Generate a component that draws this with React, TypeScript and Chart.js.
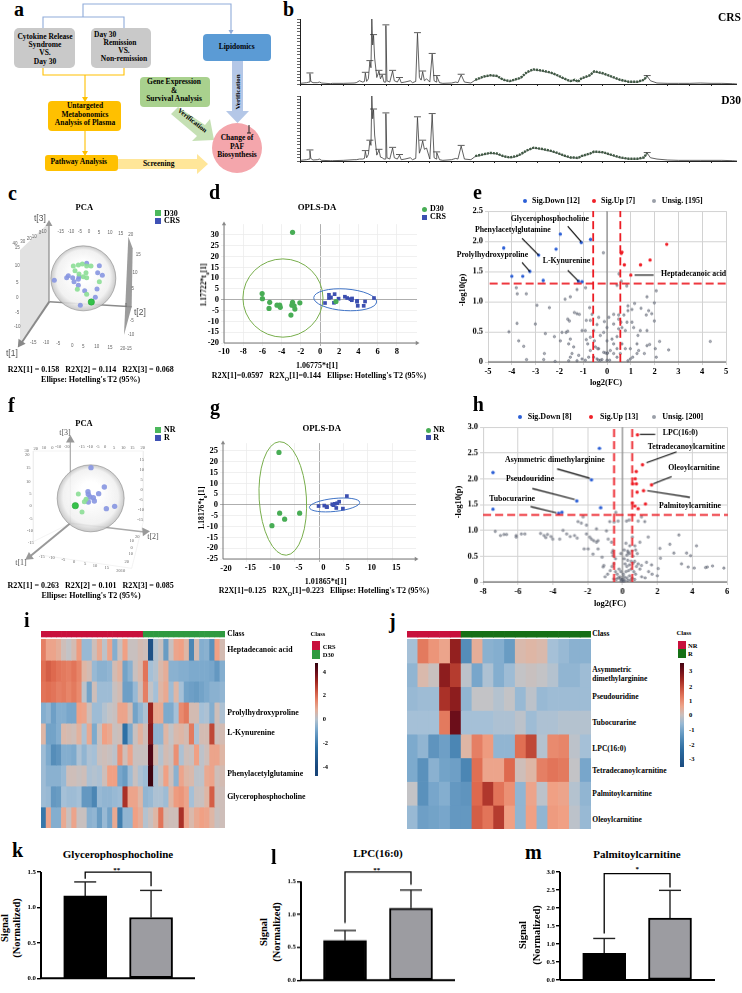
import React, { useEffect, useRef } from "react";
import Chart from "chart.js/auto";

const F = '"Liberation Serif", serif';
const SANS = '"Liberation Sans", sans-serif';

/* ---------- b: chromatograms ---------- */
const crsTime = [0,.3,.42,.46,.5,.6,.8,.9,1,1.4,1.5,2,2.5,2.6,2.75,2.9,2.98,3.02,3.08,3.16,3.23,3.28,3.32,3.36,3.4,3.45,3.55,3.65,3.72,3.8,3.88,3.94,3.97,4.02,4.15,4.28,4.36,4.5,4.6,4.68,4.85,5.1,5.2,5.35,5.43,5.52,5.6,5.67,5.75,5.85,6,6.11,6.2,6.3,6.32,6.45,6.6,7,7.2,7.3,7.45,7.6,7.9,8.1,8.5,8.8,9.1,9.4,9.7,10,10.2,10.5,10.8,11.2,11.6,11.9,12.2,12.5,12.7,12.85,13,13.4,13.6,14,14.4,14.8,15.2,15.6,15.9,16.05,16.2,16.5,17,17.5,18,18.5,19,19.5,20,20.2];
const crsSignal = [1,2,3,16,4,2,2,3,1.5,.5,1,1,1.5,2,5,3,4,17,4,8,35,25,100,60,75,40,10,20,8,14,3,3,90,5,3,20,5,3,9,2,3,5,2,4,78,10,6,19,5,8,3,46,5,3,12,2,1,1.5,3,2,14,3,1.5,6,11,13,12,6,4,7,9,18,22,20,17,13,8,4,6,3,8,13,19,16,11,6,3,3,6,12,5,1.5,1,1,1,1.5,1,1,.5,0];
const d30Time = [0,.3,.42,.46,.5,.6,.8,.9,1,1.4,1.5,2,2.5,2.6,2.75,2.9,2.98,3.02,3.08,3.16,3.23,3.28,3.32,3.36,3.4,3.45,3.55,3.65,3.72,3.8,3.88,3.94,3.97,4.02,4.15,4.28,4.36,4.5,4.6,4.68,4.85,5.1,5.2,5.35,5.43,5.52,5.6,5.67,5.75,5.85,6,6.11,6.2,6.3,6.32,6.45,6.6,7,7.2,7.3,7.45,7.6,7.9,8.1,8.5,8.8,9.1,9.4,9.7,10,10.2,10.5,10.8,11.2,11.6,11.9,12.2,12.5,12.7,12.85,13,13.4,13.6,14,14.4,14.8,15.2,15.6,15.9,16.05,16.2,16.5,17,17.5,18,18.5,19,19.5,20,20.2];
const d30Signal = [1,2,3,16,4,1.5,2,3,1,.5,.5,1,2,2,3,3,4,15,5,10,31,24,100,65,79,40,9,17,6,5,3,3,73,5,3,20,5,3,9,2,3,5,2,4,67,12,20,31,18,20,3,72,5,3,13,2,1,2,4,3,23,3,2,7,10,12,11,7,5,7,10,16,20,18,15,12,8,5,5,4,7,11,14,13,9,5,3,3,5,12,5,3,1.5,1,1,1,1,1,.5,0];
const crsPeakTimes = [.46,3.02,3.23,3.32,3.4,3.65,3.8,3.97,4.28,4.6,5.43,5.67,6.11,6.32,7.45,16.05];
const d30PeakTimes = [.46,3.02,3.23,3.32,3.4,3.65,3.97,4.28,4.6,5.43,5.67,6.11,6.32,7.45,16.05];

/* ---------- c, f: PCA scores, projected ---------- */
const pcaCGreen = [[220,258],[235,255],[247,252],[260,258],[273,258],[225,272],[237,282],[258,278],[250,290],[260,293],[298,305],[232,328],[260,343]];
const pcaCGreenStrong = [[274,366]];
const pcaCBlue = [[260,250],[298,257],[293,278],[307,286],[163,301],[205,287],[200,293],[218,293],[237,290],[222,305],[235,298],[235,316],[254,332],[291,327],[286,352],[241,376]];
const pcaFGreen = [[235,357],[258,373],[253,380],[246,411]];
const pcaFGreenStrong = [[226,392]];
const pcaFBlue = [[273,278],[313,336],[296,356],[264,350],[265,358],[270,366],[280,368],[283,378],[265,381],[319,401],[344,394]];

/* ---------- d, g: OPLS-DA scores ---------- */
const dD30X = [-2.86,-6.03,-6,-5.24,-5.31,-4.48,-4.2,-4.14,-2.86,-2.93,-2.7,-2.62,-2.1,-3.03,1.66];
const dD30Y = [31.2,2.9,.5,-1.2,-4,-2.5,-2.5,-3.5,-1.2,-2.5,-2.8,-4.3,-1.4,-7.1,-.8];
const dCrsX = [.52,.93,.93,1.14,1.52,1.45,1.93,2.59,2.83,3.17,3.31,3.34,3.86,3.93,3.86,4.55,4.69,5.62];
const dCrsY = [-1.5,2.3,.8,1.1,2.6,-1.4,.5,1.4,.8,.3,-.2,.6,-.9,-2.8,-.5,-2.8,-.8,.8];
const gNrX = [-8.29,-8.15,-7.12,-4.04,-9.73];
const gNrY = [24.3,-3.8,-6.6,-3.8,-9.6];
const gRX = [-.14,1.03,1.5,2.67,3.2,3.5,3.7,4.1,4.86,5.68,1.6,2.9];
const gRY = [-.5,-.3,-.9,.3,.5,-1.4,.8,1.5,-1.7,4.1,-1,-.1];

/* ---------- e: volcano ---------- */
const eDownX = [-4.34,-4,-3.54,-3.24,-2.68,-2.87,-2.14,-1.96,-1.08,-.69,-1.2,-1.05];
const eDownY = [1.89,1.42,1.42,1.5,1.35,1.77,1.87,2.12,1.98,2.03,1.34,1.33];
const eUpX = [.63,.6,.73,1,1.41,1.81,2.51];
const eUpY = [1.82,1.8,1.61,1.44,1.61,1.69,1.95];
const eGrayX = [-3.81,-3.77,-3.39,-2.94,-2.42,-1.76,-1.54,-1.26,-.9,-3.01,-3.78,-4.12,-3.71,-3.5,-3.38,-2.59,-2.21,-2.63,-2.66,-2.18,.42,.83,-.15,.5,.6,2.07,1.68,1.16,.88,1.05,1.43,1.75,1.88,1.65,1.99,1.99,1.4,1.68,1.3,.88,.71,.49,.28,.08,-.11,-.35,-.42,-.73,-.63,-.7,-.87,-1.37,-1.26,-1.16,-1.65,-1.58,-1.65,-1.89,-1.54,-1.72,-1.61,-1.96,-1.4,-1.05,-.91,-.56,-.7,-.87,-.53,-.28,-.14,0,.28,.63,.84,1.05,1.12,.77,.49,.42,.21,0,.28,.42,.63,.77,.98,1.26,1.33,1.57,1.79,2.07,2.21,2.59,4.34,1.68,-.35,-.14,0,.14,.28,-.21,-.28,-.42,-.56,-.77,-.91,-1.05,-1.19,-1.54,-1.61,-1.26,-1.47,-.81,-.7,-.49,-.39,.42,.56,.98,1.08,.88,0,.11,2.03,1.26,.49,.59,-.07,.03,-.35];
const eGrayY = [1.23,1.13,1.13,.94,.9,1.04,1.08,1.2,1.23,.63,.64,.5,.35,.26,.04,.47,.42,.14,.04,.01,1.27,1.26,1.81,1.46,1.34,1.18,1.08,.97,.93,.87,.89,.85,.8,.78,.98,.68,.52,.52,.44,.85,.78,.78,.79,.74,.67,.74,.62,.9,.79,.69,.69,.82,.8,.79,.71,.68,.51,.49,.38,.49,.3,.35,.25,.52,.52,.52,.41,.37,.35,.44,.49,.57,.63,.57,.66,.66,.57,.52,.55,.42,.38,.35,.3,.22,.3,.22,.22,.3,.19,.14,.29,.08,.34,.2,.34,.27,.22,.16,.14,.19,.14,.04,.03,.05,.08,.08,.03,.05,.11,.08,.02,.02,.14,.3,.19,.25,.22,.08,.14,.05,.08,.02,.03,.03,.22,.14,.71,.66,.15,.15,.03];

/* ---------- h: volcano ---------- */
const hDownX = [-7.43,-7.43,-1.32,-1.78,-2.62,-3.66,-3.47,-1.25];
const hDownY = [2.12,1.41,2.59,1.98,1.57,1.33,1.35,1.44];
const hUpX = [.86,1.15,.79,.73,.59,.8,1.67,.84,1.21,1.32,.57,.71,.9];
const hUpY = [2.85,2.27,2.14,2,1.9,1.9,1.88,1.74,1.77,1.51,1.53,1.47,1.42];
const hGrayX = [-7.3,-7,-6.8,-6.65,-6.1,-6.1,-5.8,-5.6,-4.7,-4.5,-4.3,-4.4,-4.1,-4,-3.6,-3.41,-3.2,-3,-2.75,-2.6,-2.26,-2.36,-2.07,-2.55,-.38,-.25,-.48,-.73,.23,.38,1.09,1.28,.9,1.48,.57,-1.49,-2.07,-1.88,-1.78,-1.65,-1.49,-1.4,-.92,-.82,-.63,-.54,-2.2,-1.97,-1.69,-1.4,-1.07,-1.11,-1.17,-.59,-.54,2.15,2.72,3.24,2.95,3.68,3.91,4.25,2.18,2.05,3.39,3.77,4.12,4.77,4.87,5.17,5.82,1.67,1.38,1.09,1,.42,.33,.71,.1,.3,.5,.15,.25,.4,.6,.7,.8,.9,1,.2,.35,.5,.65,.75,.05,-.1,-.2,-.3,-.4,-.15,.1,.25,.4,.55,.7,-.05,0,.02,-.02,.05,-.08,.08,.12,-.12,-.25,-.35,-.5,.3,.45,1.1,1.3,.2,.3,.1,.4,.25,.55,.6,.75,.85,-.1,-.4,-.5,-.6,-.7,-.85,-1,1.5,1.7,2];
const hGrayY = [.98,.9,.92,.92,.9,.87,.93,.93,.94,.9,.92,.86,.88,.83,.83,1,.93,.88,.9,.85,1.26,1.14,1.1,1.17,1.35,1.18,1.16,1.17,1.18,1.2,1.26,1.17,1.18,.87,.87,1.03,.93,.87,.83,.8,.77,.8,.99,.83,.77,.61,.64,.64,.54,.64,.32,.29,.48,.57,.51,.65,.73,.91,.56,.56,.51,.7,.46,.26,.35,.29,.27,.28,.29,.31,.27,.33,.38,.32,.77,.7,.57,.7,.45,.42,.4,.35,.3,.33,.36,.4,.3,.35,.25,.2,.22,.25,.2,.15,.15,.2,.25,.15,.2,.1,.1,.08,.12,.08,.05,.05,.02,.03,.04,.02,.02,.05,.02,.06,.08,.05,.06,.03,.04,.1,.08,.75,.6,.62,.55,.52,.6,.5,.62,.55,.55,.45,.35,.3,.22,.15,.1,.2,.15,.12];

/* ---------- i, j: heatmaps ---------- */
const heatI = [
  [1.6,.9,.9,.7,.2,0,.3,1.1,-.6,-.6,.2,.8,-.1,.9,-.9,.1,1,.1,.1,.3,.2,-4,-.2,.1,-1.4,.1,.9,1,.5,-2,.3,-.9,-.8,-1.7,1,.3],
  [1.9,2.2,2,1.8,1.7,1.6,1.8,1.5,.5,.3,-.6,-.8,-.8,-.7,.3,.6,-1.2,-.8,.1,.4,1.8,-.4,-.2,.4,.7,-.8,-.8,-.9,-.9,-1,-1,-1,-1,-1.1,-1.5,-.9],
  [1.8,1.9,1.8,1.6,1.7,1.5,1.7,1.4,-.1,-1.2,.2,-.5,-.5,-.5,.1,.3,-1.3,-1.3,-.6,.2,1.6,0,-.4,.5,.8,-.5,.5,-.4,-1.2,-1.3,-1.4,-1.2,-1,-.8,-.8,-.7],
  [-.9,-.7,-1.3,-.9,-.9,-1.1,-1.1,1,.9,.2,-.5,-.5,-.2,0,.1,.9,.9,.3,-1.2,-.7,-.3,3.3,.8,.8,-1,-1,-.4,1.4,1.7,.3,.3,-.4,-.3,-.9,.2,-.3],
  [.5,-1.2,-1.2,-.9,.4,.3,.2,.6,-.3,.8,-1,.1,1,.8,.1,.2,-2.6,-1,.1,.6,.2,3.6,-.7,-.7,.5,0,.4,.5,.3,1.7,-.3,.3,.3,2.6,.2,.3],
  [-.5,-1,-1.8,-1.6,-.9,-.9,-1,-.3,-.7,-.3,-.4,.1,.2,.1,-.1,1.3,.2,.9,.1,.1,.1,4.4,.3,-.2,.3,.1,1.3,-.3,.2,.1,1,-.1,.2,.9,.9,.5],
  [-.5,-.8,-.8,-.8,-.6,.2,.2,.1,.2,-.3,-.2,-.3,.2,1,1,-1.1,-1.4,-.5,.1,-.3,-.5,4.7,-.3,.1,1,.2,-.8,.9,.5,.4,-.1,-.1,.8,.9,.2,.3],
  [-.5,-.6,-1.5,-1.4,-.4,-.5,-.5,-.4,-1.5,-1.5,-2,-.6,-.7,-.7,-.6,-.5,3,.9,.9,.5,-.7,-.6,-.3,-.3,-.5,.5,1.1,1.2,.9,-.4,.1,.1,.5,2.2,.2,.2],
  [-2.4,.9,-.9,-.9,.8,.1,.9,.1,.1,-.8,-.7,-1.4,-.6,-1.2,.8,-2.2,-.7,-.7,1,.7,-.2,.1,.5,1.8,.3,.2,.2,3,.9,.4,.8,1,.9,.5,.1,.2],
];
const heatIClass = [20, 16];
const heatJ = [
  [-.4,1.7,1.2,.9,3.4,-1.8,.7,-.8,-.9,-1.4,.4,.5,.4,-.4,-.6,-.8,-.8],
  [-.7,.4,.1,3.5,2.8,-.1,-1.1,-.3,-.9,-.5,0,.1,0,-.2,-.7,-.7,-.5],
  [-.6,-.5,-.5,3,3.5,-.7,0,0,-.2,0,-.6,-.1,-.6,-.5,-.5,-.5,-.5],
  [-.4,-.4,-.4,1.7,4,-.4,-.4,-.4,-.3,-.3,-.1,-.5,-.3,-.3,-.2,-.2,-.2],
  [-1,-.7,-1.6,-1.3,-2,.5,1.6,1.1,-.7,-.7,1.9,2.6,-.2,1.4,1.5,-.1,-.4],
  [-1,-1.7,-.8,-1.2,-1.3,-2,1.9,.9,.9,2,.2,.5,1.6,1.8,1.7,0,-1.1],
  [0,-1.7,-1.1,-.9,-1.5,-1.6,2,2.9,1.8,1.3,-.7,.9,-.1,1,.9,-.2,-.7],
  [-.6,-1.3,-1.2,-1.1,-1.5,-1.5,2.2,1.8,2.8,1,-.7,1,-.7,1.1,1,-.1,-.6],
];
const heatJClass = [5, 12];
const heatStops: [number, number[]][] = [[-4.7,[22,66,118]],[-2.6,[45,112,165]],[-1,[125,170,205]],[-.4,[165,192,215]],[0,[195,195,198]],[.5,[222,182,165]],[1,[240,160,132]],[2,[222,105,78]],[3.2,[160,38,32]],[4.2,[95,8,25]],[5,[40,0,10]]];
const heatColor = (v: number) => {
  for (let i = 1; i < heatStops.length; i++) {
    if (v <= heatStops[i][0]) {
      const [a, ca] = heatStops[i - 1], [b, cb] = heatStops[i];
      const t = Math.max(0, (v - a) / (b - a));
      return `rgb(${ca.map((c, k) => Math.round(c + (cb[k] - c) * t)).join(",")})`;
    }
  }
  return "rgb(40,0,10)";
};

/* ---------- k, l, m: bars ---------- */
const kLabels = ["D30", "CRS"];
const kMeans = [1.163, .858];
const kTops = [1.36, 1.24];
const lLabels = ["NR", "R"];
const lMeans = [.604, 1.096];
const lTops = [.756, 1.37];
const mLabels = ["NR", "R"];
const mMeans = [.74, 1.717];
const mTops = [1.154, 2.49];

/* ---------- shared chart helpers ---------- */
const pairs = (xs: number[], ys: number[]) => xs.map((x, i) => ({ x, y: ys[i] }));
const pts = (l: number[][]) => l.map(([x, y]) => ({ x, y }));
const seg = (p: number[][], color: string, width = 1, dash?: number[]) => ({
  type: "scatter", showLine: true, data: pts(p), borderColor: color, borderWidth: width,
  borderDash: dash || [], pointRadius: 0, clip: false, tension: 0,
});
const dots = (data: any[], bg: string, r: number, style = "circle", border = "transparent", bw = 0) => ({
  type: "scatter", data, backgroundColor: bg, borderColor: border, borderWidth: bw, pointRadius: r, pointStyle: style, clip: false,
});
const poly = (p: number[][], fill: any, line = "transparent") => ({
  type: "scatter", showLine: true, data: pts(p), backgroundColor: fill, borderColor: line, borderWidth: 0.5, fill: "shape", pointRadius: 0, tension: 0, clip: false,
});
const arrowTip = (x: number, y: number, rot: number, color: string, r = 4) => ({
  type: "scatter", data: [{ x, y }], pointStyle: "triangle", rotation: rot, pointRadius: r, backgroundColor: color, borderWidth: 0, clip: false,
});
const base = (extra: any = {}) => ({
  animation: false, responsive: false, maintainAspectRatio: false, devicePixelRatio: 1, events: [],
  plugins: { legend: { display: false }, tooltip: { enabled: false } }, ...extra,
});
const tickFont = (size = 8.5) => ({ family: F, weight: "bold", size });
const ellipses = (list: number[][], color: (i: number) => string) => ({
  id: "ellipses",
  beforeDatasetsDraw(chart: any) {
    const { ctx, scales } = chart;
    list.forEach(([cx, cy, rx, ry, rot], i) => {
      const px = scales.x.getPixelForValue(cx), py = scales.y.getPixelForValue(cy);
      ctx.save();
      ctx.beginPath();
      ctx.ellipse(px, py, Math.abs(scales.x.getPixelForValue(cx + rx) - px), Math.abs(scales.y.getPixelForValue(cy + ry) - py), rot * Math.PI / 180, 0, Math.PI * 2);
      ctx.lineWidth = 1;
      ctx.strokeStyle = color(i);
      ctx.stroke();
      ctx.restore();
    });
  },
});

function Cv({ plot, m = [0, 0, 0, 0], make }: { plot: number[]; m?: number[]; make: (fit: any) => any }) {
  const ref = useRef<HTMLCanvasElement>(null);
  const [l, t, r, b] = plot, [ml, mt, mr, mb] = m;
  useEffect(() => {
    const fit = { x: (s: any) => { s.height = mb; }, y: (s: any) => { s.width = ml; } };
    const cfg = make(fit);
    cfg.options.layout = { autoPadding: false, padding: { left: 0, bottom: 0, top: mt, right: mr } };
    const c = new Chart(ref.current as any, cfg);
    return () => c.destroy();
  }, []);
  return <canvas ref={ref} width={r - l + ml + mr} height={b - t + mt + mb}
    style={{ position: "absolute", left: l - ml, top: t - mt, width: r - l + ml + mr, height: b - t + mt + mb }} />;
}

function T({ x, y, t, s = 8, a = "l", r = 0, c = "#000", w = 700, f = F, children }: any) {
  const tx = a === "c" ? -50 : a === "r" ? -100 : 0;
  return <div style={{ position: "absolute", left: x, top: y, transform: `translate(${tx}%,-50%) rotate(${r}deg)`, font: `${w} ${s}px ${f}`, lineHeight: 1, color: c, whiteSpace: "pre" }}>{t}{children}</div>;
}
const Sub = ({ t }: any) => <sub style={{ fontSize: "70%", lineHeight: 0 }}>{t}</sub>;

/* ---------- chart makers ---------- */
const listAxis = (min: number, max: number, list: number[], fit: any, size: number, fmt: (v: number) => string, grid: any, extra: any = {}) => ({
  type: "linear", min, max, afterFit: fit,
  afterBuildTicks: (s: any) => { s.ticks = list.map((value) => ({ value })); },
  ticks: { font: tickFont(size), color: "#000", callback: (v: number) => fmt(v), autoSkip: false, maxRotation: 0, padding: 2, ...(extra.ticks || {}) },
  grid, border: { display: false },
});

const chrom = (time: number[], sig: number[], peaks: number[]) => (fit: any) => {
  const series = pairs(time, sig);
  const hump = series.filter((p) => p.x > 7.9 && p.x < 16.2).map((p) => ({ x: p.x, y: p.y + .5 }));
  const marks = peaks.map((x) => ({ x, y: (series.find((p) => p.x === x) as any).y + 1 }));
  return {
    type: "scatter",
    data: {
      datasets: [
        dots(marks, "#333", 3.5, "line", "#333", .8),
        { type: "scatter", showLine: true, data: hump, borderColor: "#3f5a44", borderWidth: 2.4, borderDash: [2, 1], pointRadius: 0, clip: false },
        { type: "scatter", showLine: true, data: series, borderColor: "#3a3a3a", borderWidth: .8, pointRadius: 0, clip: false },
      ],
    },
    options: base({
      scales: {
        x: { type: "linear", min: 0, max: 20.2, afterFit: fit.x, ticks: { display: false, stepSize: 1 }, grid: { drawOnChartArea: false, color: "#222", tickLength: 2 }, border: { color: "#222", width: 1 } },
        y: { type: "linear", min: 0, max: 100, afterFit: fit.y, ticks: { display: false, stepSize: 5 }, grid: { drawOnChartArea: false, color: "#222", tickLength: 3, lineWidth: .7 }, border: { color: "#222", width: 1 } },
      },
    }),
  };
};

const frameScales = { x: { type: "linear", min: 0, max: 720, display: false }, y: { type: "linear", min: 0, max: 600, reverse: true, display: false } };

const sphere = (cx: number, cy: number, rpx: number) => ({
  type: "scatter", data: [{ x: cx, y: cy }], pointRadius: rpx, borderWidth: .8, borderColor: "rgba(130,130,130,.7)", clip: false,
  backgroundColor: (c: any) => {
    const ch = c.chart;
    const px = ch.width * cx / 720, py = ch.height * cy / 600;
    const g = ch.ctx.createRadialGradient(px, py - rpx * .2, rpx * .3, px, py, rpx);
    g.addColorStop(0, "rgba(255,255,255,.95)");
    g.addColorStop(.75, "rgba(240,240,240,.9)");
    g.addColorStop(1, "rgba(196,196,196,.9)");
    return g;
  },
});

const pcaC = () => ({
  type: "scatter",
  data: {
    datasets: [
      dots(pts(pcaCGreenStrong), "#35c24a", 3.2, "circle", "#1e9a30", .5),
      dots(pts(pcaCGreen), "rgba(140,222,150,.9)", 2.5),
      dots(pts(pcaCBlue), "rgba(135,150,225,.9)", 2.5),
      sphere(250, 295, 32.5),
      arrowTip(62, 490, 215, "#888", 5),
      arrowTip(147, 132, 0, "#999", 4),
      seg([[148, 365], [60, 495]], "#8a8a8a", 2),
      seg([[148, 365], [395, 380]], "#8a8a8a", 1.5),
      seg([[147, 365], [147, 130]], "#8a8a8a", 1.2),
      poly([[385, 170], [398, 205], [395, 380], [372, 465]], "#9c9c9c"),
      poly([[60, 210], [147, 128], [147, 365], [60, 488]], "#e2e2e2"),
    ],
  },
  options: base({ scales: frameScales }),
});

const pcaF = () => ({
  type: "scatter",
  data: {
    datasets: [
      dots(pts(pcaFGreenStrong), "#35c24a", 3.2, "circle", "#1e9a30", .5),
      dots(pts(pcaFGreen), "rgba(140,222,150,.9)", 2.5),
      dots(pts(pcaFBlue), "rgba(135,150,225,.9)", 2.7),
      sphere(272, 370, 33.5),
      arrowTip(435, 470, 85, "#999", 5),
      arrowTip(211, 195, 0, "#999", 5),
      arrowTip(88, 546, 235, "#999", 5),
      seg([[211, 445], [85, 548]], "#999", 2),
      seg([[211, 445], [440, 472]], "#aaa", 1.5),
      seg([[211, 445], [211, 195]], "#aaa", 1.2),
      seg([[100, 228], [430, 228], [430, 440]], "#eeeeee", .7),
      seg([[100, 228], [100, 500], [211, 445]], "#eeeeee", .7),
      seg([[430, 440], [395, 580], [120, 540]], "#eeeeee", .7),
    ],
  },
  options: base({ scales: frameScales }),
});

const gridFaint = (zero = "#999") => ({
  color: (c: any) => (c.tick && c.tick.value === 0 ? zero : "#ececec"), lineWidth: .8, tickLength: 3, drawTicks: true,
});

const opls = (o: any) => (fit: any) => ({
  type: "scatter",
  data: {
    datasets: [
      dots(pairs(o.gx, o.gy), "#48ad55", 2.6),
      dots(pairs(o.bx, o.by), "#3c4fb0", 2.6, "rect"),
      arrowTip(o.xr[1], o.yr[0], 90, "#888", 2.5),
      arrowTip(o.xr[0], o.yr[1], 0, "#888", 2.5),
      seg([[o.xr[0], o.yr[0]], [o.xr[1], o.yr[0]]], "#777", 1),
      seg([[o.xr[0], o.yr[0]], [o.xr[0], o.yr[1]]], "#777", 1),
    ],
  },
  plugins: [ellipses(o.ell, (i) => (i === 0 ? "#78ae4c" : "#3f73c6"))],
  options: base({
    scales: {
      x: listAxis(o.xr[0], o.xr[1], o.xt, fit.x, 8.5, String, gridFaint(), { ticks: { labelOffset: o.off || 0, padding: 1 } }),
      y: listAxis(o.yr[0], o.yr[1], o.yt, fit.y, 8.5, String, gridFaint()),
    },
  }),
});

const volcano = (o: any) => (fit: any) => ({
  type: "scatter",
  data: {
    datasets: [
      ...o.calls.map((p: number[][]) => seg(p, "#000", 1.1)),
      seg([[o.vl, 0], [o.vl, o.yr[1]]], "#ec1c24", 1.8, [8, 4]),
      seg([[o.vr, 0], [o.vr, o.yr[1]]], "#ec1c24", 1.8, [8, 4]),
      seg([[o.xr[0] + o.hs, 1.3], [o.xr[1] + .05, 1.3]], "#ec1c24", 1.8, [8, 4]),
      dots(pairs(o.dx, o.dy), "#2b5fd6", 1.7),
      dots(pairs(o.ux, o.uy), "#f02028", 1.7),
      dots(pairs(o.gx, o.gy), "rgba(140,146,156,.7)", 1.2, "circle", "rgba(55,60,75,.75)", .5),
      seg([[0, 0], [0, o.yr[1]]], "#777", 1),
      seg([[o.xr[0], 0], [o.xr[1], 0]], "#555", 1.2),
    ],
  },
  options: base({
    scales: {
      x: listAxis(o.xr[0], o.xr[1], o.xt, fit.x, 8.5, String, { color: "#d2d2d2", lineWidth: 1, tickLength: 3 }),
      y: listAxis(o.yr[0], o.yr[1], o.yt, fit.y, 8.5, (v: number) => (v === 0 ? "0" : v.toFixed(1)), { color: "#d2d2d2", lineWidth: 1, tickLength: 3 }),
    },
  }),
});

const heat = (matrix: number[][], cls: number[], classBar: number[], yMin: number) => () => {
  const labels = matrix[0].map((_, i) => String(i));
  const classColors = labels.map((_, i) => (i < cls[0] ? "#c8103c" : classBar.length === 3 ? "#167016" : "#2f9a40"));
  return {
    type: "bar",
    data: {
      labels,
      datasets: [
        { data: labels.map(() => [classBar[0], classBar[1]]), backgroundColor: classColors, grouped: false, barPercentage: 1, categoryPercentage: 1, borderWidth: 0 },
        ...matrix.map((row, r) => ({
          data: row.map(() => [r, r + 1]), backgroundColor: row.map(heatColor), grouped: false, barPercentage: 1, categoryPercentage: 1, borderWidth: 0,
        })),
      ],
    },
    options: base({
      scales: {
        x: { display: false, type: "category", offset: true },
        y: { display: false, type: "linear", min: yMin, max: matrix.length, reverse: true },
      },
    }),
  };
};

const bars = (o: any) => (fit: any) => {
  const [a, b] = [1, 2];
  const capHalf = .167;
  return {
    type: "bar",
    data: {
      datasets: [
        seg([[o.xr[0], 0], [o.xr[1], 0]], "#000", 2),
        seg([[o.xr[0], 0], [o.xr[0], o.axisTop]], "#000", 2),
        seg([[a, o.bl], [a, o.bt], [b, o.bt], [b, o.br]], "#000", 1.3),
        seg([[a - capHalf, o.tops[0]], [a + capHalf, o.tops[0]]], "#222", 1.4),
        seg([[b - capHalf, o.tops[1]], [b + capHalf, o.tops[1]]], "#222", 1.4),
        {
          type: "bar", data: [{ x: a, y: o.means[0] }, { x: b, y: o.means[1] }], backgroundColor: ["#000", "#9c9ca1"],
          borderColor: "#000", borderWidth: 2, borderSkipped: false, barThickness: 43, grouped: false,
        },
        seg([[a, o.means[0]], [a, o.tops[0]]], "#222", 1.4),
        seg([[b, o.means[1]], [b, o.tops[1]]], "#222", 1.4),
      ],
    },
    options: base({
      scales: {
        x: {
          type: "linear", min: o.xr[0], max: o.xr[1], offset: false, afterFit: fit.x,
          afterBuildTicks: (s: any) => { s.ticks = [{ value: a }, { value: b }]; },
          ticks: { font: tickFont(6.5), color: "#000", callback: (v: number) => o.labels[v - 1], autoSkip: false, maxRotation: 0, padding: 5 },
          grid: { display: false }, border: { display: false },
        },
        y: listAxis(0, o.yMax, o.yt, fit.y, 6.8, (v: number) => v.toFixed(1),
          { drawOnChartArea: false, color: "#000", lineWidth: 1.4, tickLength: 4 }, { ticks: { padding: 1 } }),
      },
    }),
  };
};

/* ---------- diagram pieces ---------- */
const Box = ({ x, y, w, h, c, r = 5 }: any) => <rect x={x} y={y} width={w} height={h} rx={r} fill={c} />;
function Diagram() {
  return (
    <svg width={290} height={180} style={{ position: "absolute", left: 0, top: 0 }}>
      <g fill="none" stroke="#8fabd9" strokeWidth={1.1}>
        <path d="M43 28V17H124V28M83 17V4H231V30" />
      </g>
      <path d="M228.5 30h5l-2.5 4.5z" fill="#8fabd9" />
      <g fill="none" stroke="#ffc000" strokeWidth={1.1}>
        <path d="M43 68V75H124V68M85 75V97M85 131V151" />
      </g>
      <path d="M82 97h6l-3 5zM82 151h6l-3 5z" fill="#ffc000" />
      <Box x={14} y={28} w={61} h={40} c="#c9c9c9" />
      <Box x={91} y={28} w={60} h={40} c="#c9c9c9" />
      <Box x={203} y={34} w={68} h={27} c="#5b9bd5" r={4} />
      <Box x={140} y={77} w={70} h={30} c="#a9d18e" r={4} />
      <Box x={48} y={101} w={73} h={30} c="#ffc000" r={4} />
      <Box x={45} y={155} w={73} h={16} c="#ffc000" r={3} />
      <path d="M118 159H197V154L208 164L197 174V169H118Z" fill="#ffe699" />
      <path d="M232 61H243V111H249L237.5 123L226 111H232Z" fill="#b4c7e7" />
      <path d="M178 107L171 114L197 136L192 141L214 140L210 119L205 125L178 107Z" fill="#c5e0b4" />
      <circle cx={237} cy={148} r={25} fill="#f4a6ac" />
      <path d="M249 125V133M247 133H251" stroke="#222" strokeWidth={1} />
    </svg>
  );
}

const cTicks: [string, number, number][] = [["15",52,205],["10",52,257],["5",52,308],["0",52,354],["-5",52,398],["-10",52,442],["40",45,192],["30",68,185],["20",88,176],["10",103,172],["0",120,160],["-10",130,155],["-15",182,157],["-10",213,157],["-5",240,157],["0",267,157],["5",297,160],["10",330,160],["15",362,162],["20",392,165],["-15",100,488],["-10",138,490],["-5",175,492],["0",217,497],["5",250,500],["10",290,502],["15",330,505],["20-15",378,508],["10",405,280],["5",398,328],["0",378,378],["-5",395,422],["-10",393,465],["15",415,225]];
const fTicks: [string, number, number][] = [["20",82,240],["15",85,280],["10",85,320],["5",91,357],["0",92,394],["-5",92,432],["-10",90,468],["-15",92,503],["30",80,228],["20",107,222],["10",132,220],["0",157,218],["-10",175,216],["-20",200,216],["-15",245,216],["-10",270,216],["-5",293,216],["0",315,216],["5",342,218],["10",370,218],["15",397,218],["20",428,220],["15",425,255],["10",425,285],["5",425,316],["0",425,346],["-5",423,376],["-10",423,405],["-15",421,435],["20",412,485],["10",395,497],["0",395,518],["10",392,538],["20",380,560],["2010",362,587],["-15",125,545],["-10",155,550],["-5",190,555],["0",222,560],["5",255,567],["10",285,572],["15",320,578]];

const Letter = ({ x, y, t }: any) => <T x={x} y={y} t={t} s={20} />;
const SigTitle = ({ x1, x2, y }: any) => (<>
  <T x={x1} y={y} t="Signal" s={10.5} a="c" r={-90} />
  <T x={x2} y={y} t="(Normalized)" s={10.5} a="c" r={-90} />
</>);
const Swatch = ({ x, y, w, h, c, round }: any) => <div style={{ position: "absolute", left: x, top: y, width: w, height: h, background: c, borderRadius: round ? "50%" : 0 }} />;
const cbarGrad = (lo: number, hi: number) => {
  const stops = [];
  for (let i = 0; i <= 12; i++) stops.push(heatColor(hi - (hi - lo) * i / 12));
  return `linear-gradient(${stops.join(",")})`;
};

const eAxisX = [-5,-4,-3,-2,-1,0,1,2,3,4,5];
const eAxisY = [0,.5,1,1.5,2,2.5];
const hAxisX = [-8,-6,-4,-2,0,2,4,6];
const hAxisY = [0,.5,1,1.5,2,2.5,3];
const eCallouts = [[[-1.65,2.25],[-1.08,1.99]],[[-3.57,2.05],[-2.87,1.77]],[[-3.57,1.65],[-3.24,1.5]],[[-1.65,1.52],[-1.2,1.34]],[[1.16,1.44],[1.96,1.44]]];
const hCallouts = [[[1,2.86],[1.88,2.86]],[[1.38,2.31],[3.1,2.52]],[[-3.75,2.19],[-1.88,2.01]],[[1.76,1.9],[2.82,2.04]],[[-5.17,1.81],[-2.74,1.6]],[[-5.27,1.46],[-3.79,1.34]],[[1.42,1.77],[3.87,1.64]]];

export default function App() {
  return (
    <div style={{ position: "absolute", left: 0, top: 0, width: 742, height: 993, background: "#fff", overflow: "hidden" }}>
      {/* a */}
      <Diagram />
      <Letter x={14} y={9} t="a" />
      {([["Cytokine Release",45,37],["Syndrome",45,45],["VS.",45,53],["Day 30",45,62],["Remission",120,43],["VS.",124,51],["Non-remission",124,59],["Lipidomics",236.7,47],["Gene Expression",174,82],["&",174,91],["Survival Analysis",174,99],["Untargeted",85,106],["Metabonomics",85,115],["Analysis of Plasma",85,123],["Pathway Analysis",78.7,162],["Screening",158.7,164],["Change of",237,138],["PAF",237,147],["Biosynthesis",237,155]] as [string,number,number][]).map(([t,x,y],i)=><T key={i} x={x} y={y} t={t} s={7.5} a="c" />)}
      <T x={94} y={35} t="Day 30" s={7.5} />
      <T x={192} y={121} t="Verification" s={7} a="c" r={38} />
      <T x={237.5} y={92} t="Verification" s={7} a="c" r={-90} />

      {/* b */}
      <Letter x={283} y={9} t="b" />
      <Cv plot={[300, 19, 737, 84]} m={[4, 0, 0, 3]} make={chrom(crsTime, crsSignal, crsPeakTimes)} />
      <Cv plot={[300, 96, 737, 161]} m={[4, 0, 0, 3]} make={chrom(d30Time, d30Signal, d30PeakTimes)} />
      <T x={741} y={18} t="CRS" s={11.5} a="r" />
      <T x={741} y={101} t="D30" s={11.5} a="r" />

      {/* c */}
      <Letter x={8} y={193} t="c" />
      <Cv plot={[0, 180, 240, 380]} make={pcaC} />
      <T x={84.3} y={207} t="PCA" s={8.5} a="c" />
      <Swatch x={155} y={210} w={6} h={6} c="#4cb85c" /><T x={164} y={213.5} t="D30" s={8} />
      <Swatch x={155} y={218} w={6} h={6} c="#3f51b5" /><T x={164} y={221} t="CRS" s={8} />
      {cTicks.map(([t,x,y],i)=><T key={i} x={x/3} y={180+y/3} t={t} s={4.5} a="c" c="#666" w={400} f={SANS} />)}
      <T x={34} y={218} t="t[3]" s={8.5} c="#555" w={400} f={SANS} />
      <T x={134} y={312} t="t[2]" s={8.5} c="#555" w={400} f={SANS} />
      <T x={6} y={353} t="t[1]" s={8.5} c="#555" w={400} f={SANS} />
      <T x={90.7} y={370} t="R2X[1] = 0.158   R2X[2] = 0.114   R2X[3] = 0.068" s={8} a="c" />
      <T x={90.7} y={380} t="Ellipse: Hotelling's T2 (95%)" s={8} a="c" />

      {/* d */}
      <Letter x={209} y={192} t="d" />
      <Cv plot={[224, 223, 417, 343]} m={[22, 6, 6, 14]} make={opls({ gx: dD30X, gy: dD30Y, bx: dCrsX, by: dCrsY, xr: [-10, 10.1], yr: [-20, 35], xt: [-10,-8,-6,-4,-2,0,2,4,6,8], yt: [-20,-15,-10,-5,0,5,10,15,20,25,30], ell: [[-3.86,.8,4.17,18.1,0],[2.62,0,3.28,5,4]] })} />
      <T x={317} y={207} t="OPLS-DA" s={8.8} a="c" />
      <Swatch x={422} y={206.5} w={5} h={5} c="#48ad55" round /><T x={430} y={209} t="D30" s={8} />
      <Swatch x={422} y={214.5} w={5} h={5} c="#3c4fb0" /><T x={430} y={217} t="CRS" s={8} />
      <T x={204} y={285} s={7.7} a="c" r={-90}>1.17722*t<Sub t="o" />[1]</T>
      <T x={317} y={366} t="1.06775*t[1]" s={8} a="c" />
      <T x={319} y={376} s={8} a="c">{"R2X[1]=0.0597   R2X"}<Sub t="O" />{"[1]=0.144   Ellipse: Hotelling's T2 (95%)"}</T>

      {/* e */}
      <Letter x={473} y={192} t="e" />
      <Cv plot={[487.7, 209, 725.7, 361.7]} m={[16, 5, 8, 14]} make={volcano({ dx: eDownX, dy: eDownY, ux: eUpX, uy: eUpY, gx: eGrayX, gy: eGrayY, xr: [-5, 5], yr: [0, 2.5], xt: eAxisX, yt: eAxisY, vl: -.58, vr: .56, hs: .07, calls: eCallouts })} />
      <Swatch x={523} y={199} w={4} h={4} c="#2b5fd6" round /><T x={532} y={201} t="Sig.Down [12]" s={8} />
      <Swatch x={592} y={199} w={4} h={4} c="#f02028" round /><T x={601} y={201} t="Sig.Up [7]" s={8} />
      <Swatch x={652} y={199} w={4} h={4} c="#9a9fa8" round /><T x={661.7} y={201} t="Unsig. [195]" s={8} />
      <T x={510.7} y={219.3} t="Glycerophosphocholine" s={7.8} />
      <T x={475} y={230} t="Phenylacetylglutamine" s={7.8} />
      <T x={456.7} y={254.7} t="Prolylhydroxyproline" s={7.8} />
      <T x={542.7} y={261.3} t="L-Kynurenine" s={7.8} />
      <T x={661} y={274.3} t="Heptadecanoic acid" s={7.8} />
      <T x={462.3} y={290} t="-log10(p)" s={8.5} a="c" r={-90} />
      <T x={606} y={382.3} t="log2(FC)" s={8.5} a="c" />

      {/* f */}
      <Letter x={8} y={405} t="f" />
      <Cv plot={[0, 375, 240, 575]} make={pcaF} />
      <T x={84} y={422.7} t="PCA" s={8.5} a="c" />
      <Swatch x={155} y={427} w={6} h={6} c="#4cb85c" /><T x={164} y={430} t="NR" s={8} />
      <Swatch x={155} y={434.5} w={6} h={6} c="#3f51b5" /><T x={164} y={437.5} t="R" s={8} />
      {fTicks.map(([t,x,y],i)=><T key={i} x={x/3} y={375+y/3} t={t} s={4.5} a="c" c="#666" w={400} />)}
      <T x={65} y={433} t="t[3]" s={8} c="#555" w={400} a="c" />
      <T x={153} y={537} t="t[2]" s={8} c="#555" w={400} a="c" />
      <T x={21} y={563} t="t[1]" s={8} c="#555" w={400} a="c" />
      <T x={90.7} y={586} t="R2X[1] = 0.263   R2X[2] = 0.101   R2X[3] = 0.085" s={8} a="c" />
      <T x={91} y={596} t="Ellipse: Hotelling's T2 (95%)" s={8} a="c" />

      {/* g */}
      <Letter x={210} y={407} t="g" />
      <Cv plot={[222.7, 441.7, 416, 558.7]} m={[22, 6, 10, 14]} make={opls({ gx: gNrX, gy: gNrY, bx: gRX, by: gRY, xr: [-19.8, 19.9], yr: [-25, 28.6], xt: [-15,-10,-5,0,5,10,15], yt: [-25,-20,-15,-10,-5,0,5,10,15,20,25], off: 4, ell: [[-7.5,3,4.86,26.3,-3.5],[3.15,0,5.2,3,-6]] })} />
      <T x={226} y={568} t="-20" s={8.5} a="c" />
      <T x={321.7} y={427.7} t="OPLS-DA" s={8.8} a="c" />
      <Swatch x={426} y={427.5} w={5} h={5} c="#48ad55" round /><T x={433.3} y={430} t="NR" s={8} />
      <Swatch x={426} y={435} w={5} h={5} c="#3c4fb0" /><T x={433.3} y={437.5} t="R" s={8} />
      <T x={201.7} y={508} s={7.7} a="c" r={-90}>1.18176*t<Sub t="o" />[1]</T>
      <T x={325.7} y={581.7} t="1.01865*t[1]" s={8} a="c" />
      <T x={324} y={591} s={8} a="c">{"R2X[1]=0.125   R2X"}<Sub t="O" />{"[1]=0.223   Ellipse: Hotelling's T2 (95%)"}</T>

      {/* h */}
      <Letter x={472.7} y={404} t="h" />
      <Cv plot={[483.3, 425, 726.7, 581.7]} m={[16, 5, 8, 14]} make={volcano({ dx: hDownX, dy: hDownY, ux: hUpX, uy: hUpY, gx: hGrayX, gy: hGrayY, xr: [-8, 6], yr: [0, 3], xt: hAxisX, yt: hAxisY, vl: -.48, vr: .56, hs: 0, calls: hCallouts })} />
      <Swatch x={518} y={415} w={4} h={4} c="#2b5fd6" round /><T x={527.7} y={417} t="Sig.Down [8]" s={8} />
      <Swatch x={589} y={415} w={4} h={4} c="#f02028" round /><T x={600} y={417} t="Sig.Up [13]" s={8} />
      <Swatch x={652} y={415} w={4} h={4} c="#9a9fa8" round /><T x={662.3} y={417} t="Unsig. [200]" s={8} />
      <T x={662.7} y={432.7} t="LPC(16:0)" s={7.8} />
      <T x={647.7} y={447} t="Tetradecanoylcarnitine" s={7.8} />
      <T x={505} y={459.7} t="Asymmetric dimethylarginine" s={7.8} />
      <T x={668.3} y={468.3} t="Oleoylcarnitine" s={7.8} />
      <T x={506} y={479.3} t="Pseudouridine" s={7.8} />
      <T x={489.3} y={499.3} t="Tubocurarine" s={7.8} />
      <T x={659} y={505.7} t="Palmitoylcarnitine" s={7.8} />
      <T x={458} y={502.3} t="-log10(p)" s={8.5} a="c" r={-90} />
      <T x={610} y={603.3} t="log2(FC)" s={8.5} a="c" />

      {/* i */}
      <Letter x={24} y={620} t="i" />
      <Cv plot={[40.7, 630.7, 225, 827.7]} make={heat(heatI, heatIClass, [-.395, -.11], -.395)} />
      <T x={227.3} y={634} t="Class" s={7.5} />
      <T x={227.3} y={650} t="Heptadecanoic acid" s={7.8} />
      <T x={227.3} y={713.3} t="Prolylhydroxyproline" s={7.8} />
      <T x={227.3} y={733} t="L-Kynurenine" s={7.8} />
      <T x={227.3} y={774.3} t="Phenylacetylglutamine" s={7.8} />
      <T x={227.3} y={797} t="Glycerophosphocholine" s={7.8} />
      <T x={318} y={634} t="Class" s={6.5} a="c" />
      <Swatch x={311.7} y={641.3} w={8.3} h={8.7} c="#c8103c" /><Swatch x={311.7} y={650} w={8.3} h={8.7} c="#2f9a40" />
      <T x={322.7} y={647} t="CRS" s={6.5} /><T x={322.7} y={654.5} t="D30" s={6.5} />
      <Swatch x={315} y={662.7} w={3.3} h={113.3} c={cbarGrad(-5.3, 4.9)} />
      {[["4",671.7],["2",695],["0",719],["-2",742.7],["-4",767]].map(([t,y]:any)=><T key={t} x={322.7} y={y} t={t} s={6.5} />)}

      {/* j */}
      <Letter x={389} y={621} t="j" />
      <Cv plot={[406.7, 631, 590.7, 829.3]} make={heat(heatJ, heatJClass, [-.35, -.09, 1], -.35)} />
      <T x={592.3} y={634.3} t="Class" s={7.5} />
      <T x={592.3} y={670} t="Asymmetric" s={7.5} />
      <T x={592.3} y={679.3} t="dimethylarginine" s={7.5} />
      <T x={592.3} y={696.7} t="Pseudouridine" s={7.5} />
      <T x={592.3} y={723} t="Tubocurarine" s={7.5} />
      <T x={592.3} y={749} t="LPC(16:0)" s={7.5} />
      <T x={592.3} y={771} t="Tetradecanoylcarnitine" s={7.5} />
      <T x={592.3} y={794} t="Palmitoylcarnitine" s={7.5} />
      <T x={592.3} y={820} t="Oleoylcarnitine" s={7.5} />
      <T x={684} y={633} t="Class" s={6.5} a="c" />
      <Swatch x={678.3} y={640.7} w={7.7} h={8.6} c="#c8103c" /><Swatch x={678.3} y={649.3} w={7.7} h={8.7} c="#167016" />
      <T x={688} y={646} t="NR" s={6.5} /><T x={688} y={654} t="R" s={6.5} />
      <Swatch x={680} y={662.7} w={4.3} h={104.6} c={cbarGrad(-4.3, 4.6)} />
      {[["3",671.3],["2",686.7],["1",701],["0",715.3],["-1",730.3],["-2",744.7],["-3",759.3]].map(([t,y]:any)=><T key={t} x={689} y={y} t={t} s={6.5} />)}

      {/* k */}
      <Letter x={12} y={850} t="k" />
      <T x={118} y={854} t="Glycerophosphocholine" s={11} a="c" />
      <SigTitle x1={5} x2={17} y={928} />
      <T x={116.7} y={870} t="**" s={7} a="c" />
      <Cv plot={[40.7, 871.7, 195, 978.3]} m={[25, 6, 4, 14.7]} make={bars({ labels: kLabels, means: kMeans, tops: kTops, xr: [.329, 2.667], yMax: 1.5, axisTop: 1.5, yt: [0,.5,1,1.5], bl: 1.406, br: 1.3, bt: 1.497 })} />

      {/* l */}
      <Letter x={271} y={857} t="l" />
      <T x={378} y={853} t="LPC(16:0)" s={11} a="c" />
      <SigTitle x1={264} x2={277} y={932} />
      <T x={376.7} y={870} t="**" s={7} a="c" />
      <Cv plot={[301, 865.3, 455, 980.3]} m={[25, 6, 4, 12.7]} make={bars({ labels: lLabels, means: lMeans, tops: lTops, xr: [.333, 2.667], yMax: 1.75, axisTop: 1.5, yt: [0,.5,1,1.5], bl: .868, br: 1.452, bt: 1.645 })} />

      {/* m */}
      <Letter x={525} y={852} t="m" />
      <T x={637} y={854} t="Palmitoylcarnitine" s={11} a="c" />
      <SigTitle x1={523} x2={537} y={935} />
      <T x={637.3} y={869} t="*" s={7} a="c" />
      <Cv plot={[560, 871.7, 715, 980]} m={[25, 6, 4, 13]} make={bars({ labels: mLabels, means: mMeans, tops: mTops, xr: [.328, 2.684], yMax: 3, axisTop: 3, yt: [0,.5,1,1.5,2,2.5,3], bl: 1.29, br: 2.567, bt: 2.955 })} />
    </div>
  );
}
